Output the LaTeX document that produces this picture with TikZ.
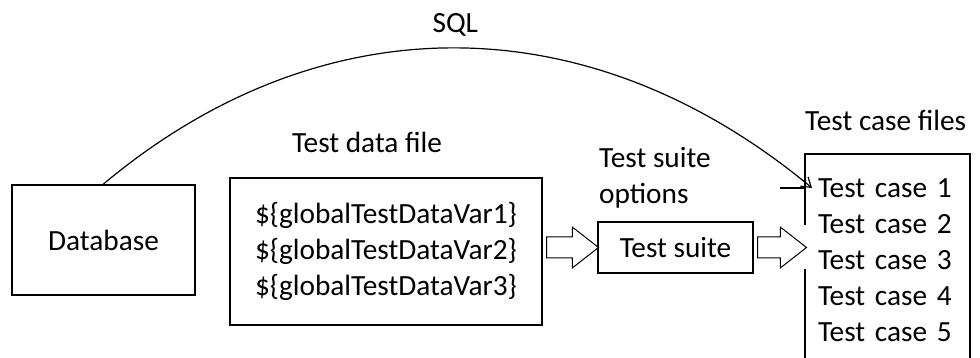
\documentclass[tikz,border=0pt]{standalone}
\usepackage{fontspec}
\setmainfont{Carlito}
\usetikzlibrary{
  arrows.meta,
  shapes.arrows,
  positioning,
  calc
}
\tikzset{
  tdnode/.style={
    draw, line width=2pt, inner sep=0pt, align=center,
    font={\fontsize{29.3pt}{36pt}\selectfont}
  },
  dbbox/.style={tdnode, minimum width=183pt, minimum height=110pt},
  filebox/.style={tdnode, minimum width=312pt, minimum height=147pt, align=left},
  suitebox/.style={tdnode, minimum width=155pt, minimum height=51pt},
  casebox/.style={tdnode, draw=none, anchor=north west, align=left,
    text width=139pt, inner xsep=12pt, inner ysep=24pt},
  lbl/.style={font={\fontsize{29.3pt}{36pt}\selectfont}, inner sep=0pt, align=left},
  blockarr/.style={
    single arrow, draw, line width=1pt, fill=white, anchor=tail,
    inner xsep=0pt, inner ysep=10pt, single arrow head extend=10pt,
    single arrow tip angle=76, minimum height=52pt
  },
  sqlflow/.style={-{Straight Barb[length=9pt, width=12pt]}, line width=1.2pt},
  edgeline/.style={line width=2pt}
}
\begin{document}
\begin{tikzpicture}[x=1pt, y=1pt]
  \useasboundingbox (0,0) rectangle (980,358);
  \clip (0,0) rectangle (980,358);
  \node[dbbox] (db) at (103.5,118) {Database};
  \node[filebox] (data) at (386,106.5) {\$\{globalTestDataVar1\}\\\$\{globalTestDataVar2\}\\\$\{globalTestDataVar3\}};
  \node[lbl, above=24pt of data.north, xshift=-19pt] (datalbl) {Test data file};
  \node[suitebox] (suite) at (675.5,110.5) {Test suite};
  \node[lbl, above right=13pt and 2pt of suite.north west] (optlbl) {Test suite\\options};
  \node[casebox] (cases) at (805,204) {Test case 1\\Test case 2\\Test case 3\\Test case 4\\Test case 5};
  \node[lbl, above right=23pt and 0pt of cases.north west] (caselbl) {Test case files};
  % block arrows between the boxes
  \node[blockarr] (arr1) at ([xshift=3pt]data.east |- suite.west) {};
  \node[blockarr, minimum height=49pt] (arr2) at ([xshift=3pt]suite.east) {};
  % outline of the test case box, open where arr2 enters
  \coordinate (gaptop) at ($(arr2.tip)+(0,22)$);
  \coordinate (gapbot) at ($(arr2.tip)+(0,-22)$);
  \draw[edgeline] (gaptop -| cases.west) |- (cases.north east) |- (cases.south west) -- (gapbot -| cases.west);
  % SQL query
  \coordinate (sqlend) at ($(cases.north west)+(7,-34)$);
  \draw[sqlflow] (db.north) .. controls (321,356) and (588,356) .. (sqlend)
    node[lbl, pos=0.5, above=11pt] (sqllbl) {SQL};
  \draw[line width=1.2pt] (sqlend -| cases.west) -- ++(-25,0);
\end{tikzpicture}
\end{document}
